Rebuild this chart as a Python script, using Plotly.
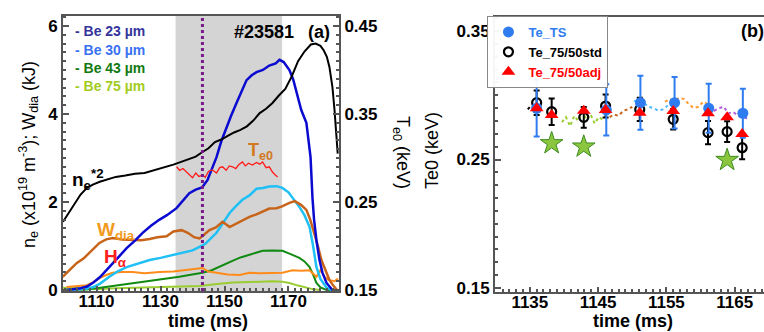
import plotly.graph_objects as go

# ---------------- Panel (a) data ----------------
ne2_t = [1099.5, 1101, 1102.5, 1103.8, 1105, 1107, 1109, 1111, 1113, 1116, 1119, 1122, 1125, 1128, 1131, 1134,
         1136, 1139, 1141, 1143, 1145, 1147, 1149, 1151, 1153, 1155, 1157, 1159, 1161, 1163, 1165, 1167, 1169,
         1171, 1173, 1175, 1177, 1178.5, 1180, 1181, 1182, 1182.8, 1183.75, 1184.4, 1185, 1185.4]
ne2_v = [1.55, 1.72, 1.9, 2.05, 2.17, 2.32, 2.4, 2.46, 2.5, 2.57, 2.6, 2.64, 2.66, 2.72, 2.78, 2.85,
         2.9, 2.97, 3.03, 3.13, 3.22, 3.36, 3.42, 3.5, 3.58, 3.64, 3.72, 3.85, 4.02, 4.12, 4.25, 4.42, 4.57,
         4.85, 5.2, 5.42, 5.58, 5.6, 5.55, 5.45, 5.3, 5.07, 4.61, 4.09, 3.48, 3.1]

be23_t = [1100.6, 1103, 1105, 1107, 1109, 1111, 1113, 1115, 1117, 1119.4, 1122, 1124.4, 1127, 1129.7, 1132, 1135,
          1137, 1139, 1141, 1143, 1144.7, 1146, 1147.5, 1149, 1150.6, 1152, 1153.75, 1155.5, 1156.9, 1158.5, 1160,
          1162, 1164, 1166, 1167.2, 1168.5, 1170.3, 1171.5, 1172.5, 1174, 1175.6, 1176.2, 1176.9, 1177.5, 1178,
          1178.8, 1179.7, 1180.6, 1181.9, 1183.75]
be23_v = [0.0, 0.02, 0.04, 0.08, 0.17, 0.29, 0.44, 0.61, 0.76, 0.95, 1.12, 1.3, 1.46, 1.6, 1.7, 1.86,
          2.02, 2.2, 2.28, 2.33, 2.5, 2.74, 3.02, 3.38, 3.7, 3.95, 4.25, 4.55, 4.77, 4.88, 4.95,
          5.0, 5.1, 5.15, 5.23, 5.18, 5.0, 4.78, 4.48, 4.09, 3.8, 3.48, 3.02, 2.1, 1.6,
          1.1, 0.68, 0.4, 0.16, 0.0]

be30_t = [1100.6, 1104, 1106.5, 1108.75, 1111, 1114, 1116.5, 1119.4, 1123, 1126.6, 1130, 1133, 1135, 1138, 1140,
          1142.2, 1144, 1145.8, 1147.5, 1149.5, 1151.6, 1153.5, 1155.6, 1157.8, 1160, 1162, 1164, 1166.25, 1168.1,
          1170, 1171.5, 1173.4, 1175, 1176.6, 1177.7, 1178.75, 1180, 1181.9, 1183.5, 1185]
be30_v = [0.0, 0.01, 0.03, 0.06, 0.14, 0.3, 0.42, 0.52, 0.6, 0.68, 0.73, 0.78, 0.8, 0.86, 0.9,
          0.98, 1.05, 1.18, 1.3, 1.52, 1.75, 1.9, 2.05, 2.15, 2.3, 2.32, 2.35, 2.36, 2.32,
          2.22, 2.08, 1.89, 1.7, 1.43, 1.0, 0.52, 0.25, 0.05, 0.0, 0.0]

wdia_t = [1099.4, 1101.5, 1103.75, 1106, 1107.8, 1109.5, 1110.9, 1113, 1115, 1118, 1121.25, 1124, 1126.6, 1129,
          1131.9, 1134, 1136.6, 1138.5, 1140.5, 1142.2, 1143.5, 1145.3, 1147.3, 1149.4, 1151.6, 1154, 1157.8,
          1160, 1162, 1164, 1166.25, 1168, 1170.3, 1172, 1174, 1175.6, 1176.8, 1178.1, 1179.2, 1180.3, 1181.5,
          1182.8, 1184, 1185.2]
wdia_v = [0.3, 0.45, 0.61, 0.72, 0.84, 0.97, 1.07, 1.15, 1.18, 1.15, 1.14, 1.13, 1.16, 1.2,
          1.22, 1.33, 1.36, 1.3, 1.2, 1.17, 1.25, 1.36, 1.42, 1.55, 1.43, 1.52, 1.66,
          1.72, 1.78, 1.85, 1.86, 1.9, 1.98, 2.02, 1.93, 1.82, 1.6, 1.3, 1.0, 0.68, 0.45,
          0.23, 0.1, 0.0]

ha_t = [1100.6, 1103, 1106.9, 1109, 1110.9, 1113, 1115, 1118, 1121.25, 1125, 1129.7, 1134, 1138.1, 1141, 1143.1,
        1145, 1148.4, 1151, 1154.7, 1157.8, 1161, 1164, 1168.1, 1171.25, 1174, 1176.6, 1177.7, 1178.75, 1180,
        1181.25, 1182.5, 1184.4, 1185.5]
ha_v = [0.07, 0.09, 0.11, 0.18, 0.27, 0.34, 0.39, 0.41, 0.41, 0.38, 0.41, 0.42, 0.45, 0.47, 0.5,
        0.42, 0.39, 0.35, 0.34, 0.39, 0.38, 0.39, 0.39, 0.45, 0.44, 0.45, 0.38, 0.3, 0.45,
        0.3, 0.23, 0.2, 0.26]

be43_t = [1099.4, 1103, 1106.9, 1110, 1113.1, 1117, 1121.25, 1125, 1129.7, 1133, 1135.9, 1139, 1143.1, 1146, 1148,
          1150.6, 1153, 1155, 1157.8, 1160, 1161.9, 1165, 1168.1, 1170.5, 1173.4, 1175, 1176.6, 1177.7, 1178.75,
          1180, 1181.9, 1184]
be43_v = [0.0, 0.0, 0.01, 0.04, 0.07, 0.11, 0.16, 0.19, 0.23, 0.27, 0.3, 0.34, 0.39, 0.45, 0.52,
          0.6, 0.68, 0.74, 0.8, 0.85, 0.89, 0.9, 0.89, 0.82, 0.73, 0.65, 0.52, 0.35, 0.16,
          0.06, 0.0, 0.0]

be75_t = [1099.4, 1105, 1110.9, 1116, 1121.25, 1126, 1131.9, 1137, 1142.2, 1147, 1152.5, 1158, 1165, 1168, 1170.3,
          1173, 1175.6, 1177.5, 1179.7]
be75_v = [0.05, 0.03, 0.02, 0.04, 0.05, 0.06, 0.07, 0.08, 0.09, 0.13, 0.17, 0.18, 0.2, 0.19, 0.16,
          0.1, 0.05, 0.02, 0.0]

te0_t = [1135, 1136, 1137, 1138.1, 1139, 1140, 1141, 1142, 1143.1, 1144, 1145, 1146.25, 1147.5, 1148.5, 1149.4,
         1150.5, 1151.5, 1152.5, 1153.5, 1154.5, 1155.6, 1156.5, 1157.5, 1158.75, 1160, 1161, 1161.9, 1163, 1164,
         1165, 1165.8, 1166.6]
te0_kev = [0.29, 0.286, 0.288, 0.284, 0.281, 0.2775, 0.283, 0.279, 0.2805, 0.278, 0.285, 0.2865, 0.283, 0.289,
           0.29, 0.286, 0.291, 0.29, 0.288, 0.2925, 0.2955, 0.291, 0.294, 0.292, 0.295, 0.293, 0.2955, 0.289,
           0.29, 0.284, 0.281, 0.2785]

shade_window = [1134.7, 1168.0]
marker_time = 1143.1

left_yticks = [0, 2, 4, 6]
right_yticks = [0.15, 0.25, 0.35, 0.45]
left_xticks = [1110, 1130, 1150, 1170]

# ---------------- Panel (b) data ----------------
ts_t = [1136.0, 1146.2, 1151.2, 1156.2, 1161.2, 1166.2]
ts_v = [0.2899, 0.2886, 0.2942, 0.2942, 0.2899, 0.2860]
ts_err = [0.022, 0.02, 0.021, 0.02, 0.019, 0.019]

std_t = [1136.0, 1138.2, 1142.9, 1146.1, 1151.1, 1156.0, 1161.1, 1163.9, 1166.1]
std_v = [0.2942, 0.2872, 0.2828, 0.2916, 0.289, 0.2813, 0.2709, 0.2717, 0.2592]
std_err = [0.0095, 0.0103, 0.008, 0.009, 0.009, 0.008, 0.009, 0.008, 0.009]

adj_t = [1136.0, 1138.2, 1142.9, 1146.1, 1151.1, 1156.0, 1161.1, 1163.9, 1166.1]
adj_v = [0.2899, 0.2846, 0.288, 0.2885, 0.2864, 0.2877, 0.286, 0.2828, 0.2698]

star_t = [1138.2, 1142.9, 1163.9]
star_v = [0.2626, 0.26, 0.2496]

frag_black_t = [1134.7, 1135.2, 1135.7, 1136.1, 1136.5]
frag_black_v = [0.289, 0.292, 0.291, 0.293, 0.29]
frag_yg_t = [1139.7, 1140.3, 1140.9, 1141.5, 1142.1, 1142.7, 1143.3, 1143.9, 1144.5, 1145.1, 1145.7]
frag_yg_v = [0.279, 0.283, 0.276, 0.284, 0.28, 0.287, 0.281, 0.285, 0.278, 0.283, 0.281]
frag_brown_t = [1146.7, 1147.3, 1148.0, 1148.7, 1149.4, 1150.0]
frag_brown_v = [0.283, 0.285, 0.284, 0.288, 0.289, 0.291]
frag_lblue_t = [1150.3, 1151.0, 1151.7, 1152.4, 1153.1, 1153.8, 1154.5, 1155.2]
frag_lblue_v = [0.296, 0.293, 0.294, 0.291, 0.29, 0.288, 0.289, 0.292]
frag_orange_t = [1154.8, 1155.5, 1156.2, 1156.9, 1157.6, 1158.3, 1159.0, 1159.7, 1160.4, 1161.1]
frag_orange_v = [0.295, 0.297, 0.296, 0.298, 0.297, 0.293, 0.29, 0.291, 0.295, 0.293]
frag_purple_t = [1161.3, 1162.0, 1162.7, 1163.4, 1164.1, 1164.8, 1165.5, 1166.2, 1166.9]
frag_purple_v = [0.291, 0.288, 0.29, 0.291, 0.286, 0.287, 0.284, 0.283, 0.282]

b_yticks = [0.15, 0.25, 0.35]
b_xticks = [1135, 1145, 1155, 1165]

# ---------------- Figure ----------------
FONT = "Liberation Sans, Arial, sans-serif"
AX = "#555555"
fig = go.Figure()

def line(x, y, color, width, xa="x", ya="y", dash=None):
    fig.add_trace(go.Scatter(x=x, y=y, mode="lines", xaxis=xa, yaxis=ya, showlegend=False,
                             line=dict(color=color, width=width, dash=dash), hoverinfo="skip"))

line(be75_t, be75_v, "#9acd32", 2)
line(be43_t, be43_v, "#118a11", 2)
line(ha_t, ha_v, "#ff8c1a", 2)
line(be30_t, be30_v, "#1ec0f5", 2.5)
line(wdia_t, wdia_v, "#c8641a", 2.5)
line(be23_t, be23_v, "#0a0ad0", 2.5)
line(ne2_t, ne2_v, "#000000", 2)
line(te0_t, te0_kev, "#ff1a1a", 1.3, ya="y2")

# panel b fragments
for ft, fv, fc in [(frag_black_t, frag_black_v, "#000000"), (frag_yg_t, frag_yg_v, "#9acd32"),
                   (frag_brown_t, frag_brown_v, "#c8641a"), (frag_lblue_t, frag_lblue_v, "#4db8ff"),
                   (frag_orange_t, frag_orange_v, "#ff9a2e"), (frag_purple_t, frag_purple_v, "#b35ad8")]:
    line(ft, fv, fc, 2, xa="x3", ya="y3", dash="3px,3px")

fig.add_trace(go.Scatter(x=star_t, y=star_v, mode="markers", xaxis="x3", yaxis="y3", showlegend=False,
                         marker=dict(symbol="star", size=17, color="#8cc63f", line=dict(color="#3c8c1e", width=1))))
fig.add_trace(go.Scatter(x=std_t, y=std_v, mode="markers", xaxis="x3", yaxis="y3", legendrank=2,
                         name="<span style='color:#000000'>Te_75/50std</span>",
                         error_y=dict(type="data", array=std_err, color="#000000", thickness=2, width=3),
                         marker=dict(symbol="circle-open", size=9, color="#000000", line=dict(width=2.2))))
fig.add_trace(go.Scatter(x=ts_t, y=ts_v, mode="markers", xaxis="x3", yaxis="y3", legendrank=1,
                         name="<span style='color:#2f7cf0'>Te_TS</span>",
                         error_y=dict(type="data", array=ts_err, color="#2f7cf0", thickness=2, width=3),
                         marker=dict(symbol="circle", size=11, color="#2f7cf0")))
fig.add_trace(go.Scatter(x=adj_t, y=adj_v, mode="markers", xaxis="x3", yaxis="y3", legendrank=3,
                         name="<span style='color:#ff0000'>Te_75/50adj</span>",
                         marker=dict(symbol="triangle-up", size=12, color="#ff0000")))

tickfont = dict(family=FONT, size=17, color="#000000", weight="bold")
common = dict(showgrid=False, zeroline=False, showline=True, linecolor=AX, linewidth=2, ticks="inside",
              tickcolor=AX, tickwidth=1.5, tickfont=tickfont, automargin=False)

fig.update_layout(
    width=764, height=332, margin=dict(l=0, r=0, t=0, b=0, pad=0),
    paper_bgcolor="white", plot_bgcolor="white",
    font=dict(family=FONT),
    showlegend=True,
    legend=dict(x=0.638, y=0.952, xanchor="left", yanchor="top", bgcolor="rgba(255,255,255,0.95)",
                bordercolor="#888888", borderwidth=1, tracegroupgap=0, itemwidth=30,
                font=dict(family=FONT, size=13, weight="bold"), traceorder="normal"),
    xaxis=dict(domain=[63/764, 339/764], range=[1099.5, 1185.8], mirror=True, ticklen=5,
               tickvals=left_xticks, ticklabelstandoff=-6,
               minor=dict(dtick=2, ticks="inside", ticklen=3, tickcolor=AX), anchor="y", **common),
    yaxis=dict(domain=[1-291/332, 1-16/332], range=[-0.023, 6.227], ticklen=6, tickvals=left_yticks,
               minor=dict(dtick=0.2, ticks="inside", ticklen=3, tickcolor=AX), anchor="x", **common),
    yaxis2=dict(overlaying="y", side="right", anchor="x", range=[0.15 - 0.023/20, 0.15 + 6.227/20],
                ticklen=6, tickvals=right_yticks, tickformat=".2f",
                minor=dict(dtick=0.01, ticks="inside", ticklen=3, tickcolor=AX), **common),
    xaxis3=dict(domain=[495/764, 1.0], range=[1129.9, 1169.3], mirror=True, ticklen=5,
                tickvals=b_xticks, ticklabelstandoff=-6,
                minor=dict(dtick=1, ticks="inside", ticklen=3, tickcolor=AX), anchor="y3", **common),
    yaxis3=dict(domain=[1-292/332, 1-17/332], range=[0.1469, 0.3609], ticklen=6, tickvals=b_yticks,
                tickformat=".2f", minor=dict(dtick=0.01, ticks="inside", ticklen=3, tickcolor=AX),
                anchor="x3", **common),
)

fig.add_shape(type="rect", xref="x", yref="y domain", x0=shade_window[0], x1=shade_window[1], y0=0, y1=1,
              fillcolor="#d4d4d4", line=dict(width=0), layer="below")
fig.add_shape(type="line", xref="x", yref="y domain", x0=marker_time, x1=marker_time, y0=0, y1=1,
              line=dict(color="#7a1a8a", width=3, dash="dot"), layer="above")

def ann(text, x, y, size, color="#000000", bold=True, xref="x", yref="y", angle=0, xanchor="center"):
    fig.add_annotation(text=text, x=x, y=y, xref=xref, yref=yref, showarrow=False, textangle=angle,
                       xanchor=xanchor, yanchor="middle",
                       font=dict(family=FONT, size=size, color=color, weight="bold" if bold else "normal"))

# legend-like labels in panel (a)
ann("- Be 23 µm", 1102.5, 5.89, 14, "#34349a", xanchor="left")
ann("- Be 30 µm", 1102.5, 5.46, 14, "#3a72f2", xanchor="left")
ann("- Be 43 µm", 1102.5, 5.05, 14, "#137a13", xanchor="left")
ann("- Be 75 µm", 1102.5, 4.64, 14, "#a2cc1e", xanchor="left")
ann("#23581", 1162.4, 5.86, 18)
ann("(a)", 1179.4, 5.86, 18)
ann("n<sub>e</sub><sup>*2</sup>", 1107.3, 2.5, 19)
ann("W<sub>dia</sub>", 1116.0, 1.33, 19, "#f29a1e")
ann("H<sub>α</sub>", 1116.0, 0.72, 19, "#ff2020")
ann("T<sub>e0</sub>", 1161.2, 3.15, 18, "#d2781e")

# axis titles
ann("n<sub>e</sub> (x10<sup>19</sup> m<sup>-3</sup>); W<sub>dia</sub> (kJ)", 28/764, 1-155/332, 18,
    bold=False, xref="paper", yref="paper", angle=-90)
ann("T<sub>e0</sub> (keV)", 401/764, 1-152/332, 18, bold=False, xref="paper", yref="paper", angle=90)
ann("Te0 (keV)", 432/764, 1-151/332, 18, bold=False, xref="paper", yref="paper", angle=-90)
ann("time (ms)", 208/764, 1-321/332, 18, xref="paper", yref="paper")
ann("time (ms)", 633/764, 1-321/332, 18, xref="paper", yref="paper")
ann("(b)", 752/764, 1-31/332, 18, xref="paper", yref="paper")

fig.write_html("out.html", config={"displayModeBar": False},
               post_script="document.body.style.margin='0px';document.body.style.overflow='hidden';")
